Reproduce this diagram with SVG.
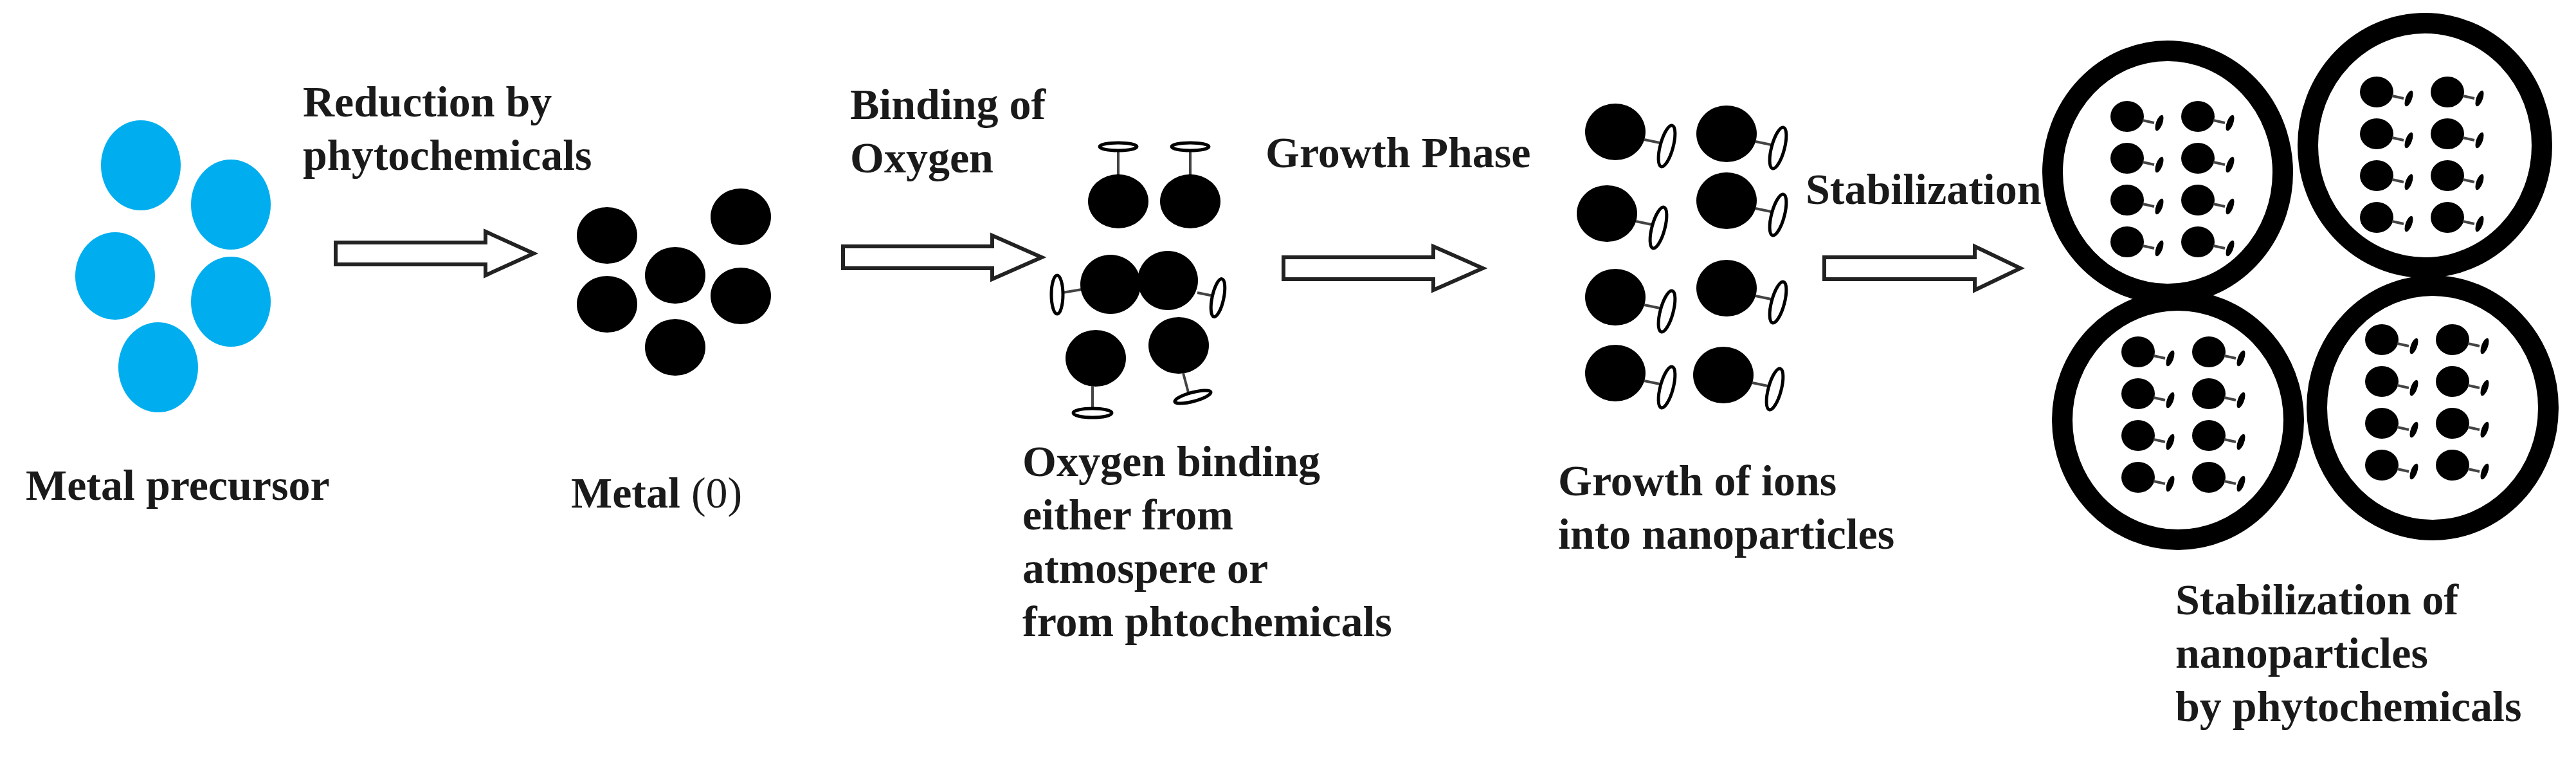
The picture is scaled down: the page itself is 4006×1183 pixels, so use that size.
<svg xmlns="http://www.w3.org/2000/svg" xmlns:xlink="http://www.w3.org/1999/xlink" width="4006" height="1183" viewBox="0 0 4006 1183">
<style>
.t{font-family:"Liberation Serif","Times New Roman",serif;font-weight:bold;font-size:68px;fill:#1a1a1a}
.n{font-weight:normal}
.b{fill:#00AEEF}
.k{fill:#000}
.o{fill:#fff;stroke:#000;stroke-width:5}
.l{stroke:#444;stroke-width:4}
.ar{fill:#fff;stroke:#222;stroke-width:6;stroke-linejoin:miter}
.ring{fill:none;stroke:#000;stroke-width:32}
</style>
<defs>
<g id="cdot">
<ellipse class="k" cx="0" cy="0" rx="26" ry="24"/>
<line class="l" x1="24" y1="6" x2="42" y2="10"/>
<ellipse class="k" cx="50" cy="10" rx="5" ry="13" transform="rotate(20 50 10)"/>
</g>
<g id="core">
<use xlink:href="#cdot" x="0" y="0"/><use xlink:href="#cdot" x="110" y="0"/>
<use xlink:href="#cdot" x="0" y="65"/><use xlink:href="#cdot" x="110" y="65"/>
<use xlink:href="#cdot" x="0" y="130"/><use xlink:href="#cdot" x="110" y="130"/>
<use xlink:href="#cdot" x="0" y="195"/><use xlink:href="#cdot" x="110" y="195"/>
</g>
<g id="gp">
<ellipse class="k" cx="0" cy="0" rx="47" ry="44"/>
<line class="l" x1="45" y1="12" x2="74" y2="18"/>
<ellipse class="o" cx="80" cy="22" rx="10" ry="33" transform="rotate(15 80 22)"/>
</g>
</defs>

<g id="precursor">
<ellipse class="b" cx="219" cy="257" rx="62" ry="70"/>
<ellipse class="b" cx="359" cy="318" rx="62" ry="70"/>
<ellipse class="b" cx="179" cy="429" rx="62" ry="68"/>
<ellipse class="b" cx="359" cy="469" rx="62" ry="70"/>
<ellipse class="b" cx="246" cy="571" rx="62" ry="70"/>
<text class="t" x="40" y="777">Metal precursor</text>
</g>

<g id="metal0">
<ellipse class="k" cx="944" cy="366" rx="47" ry="44"/>
<ellipse class="k" cx="1152" cy="337" rx="47" ry="44"/>
<ellipse class="k" cx="1050" cy="428" rx="47" ry="44"/>
<ellipse class="k" cx="944" cy="473" rx="47" ry="44"/>
<ellipse class="k" cx="1152" cy="460" rx="47" ry="44"/>
<ellipse class="k" cx="1050" cy="540" rx="47" ry="44"/>
<text class="t" x="888" y="789">Metal <tspan class="n">(0)</tspan></text>
</g>

<g id="oxygen">
<line class="l" x1="1739" y1="234" x2="1739" y2="272"/>
<line class="l" x1="1851" y1="234" x2="1851" y2="272"/>
<ellipse class="o" cx="1739" cy="228" rx="29" ry="6"/>
<ellipse class="o" cx="1851" cy="228" rx="29" ry="6"/>
<ellipse class="k" cx="1739" cy="313" rx="47" ry="42"/>
<ellipse class="k" cx="1851" cy="313" rx="47" ry="42"/>
<line class="l" x1="1652" y1="455" x2="1682" y2="450"/>
<line class="l" x1="1862" y1="455" x2="1887" y2="460"/>
<ellipse class="k" cx="1727" cy="442" rx="47" ry="46"/>
<ellipse class="k" cx="1816" cy="436" rx="47" ry="46"/>
<ellipse class="o" cx="1644" cy="458" rx="9" ry="30"/>
<ellipse class="o" cx="1894" cy="463" rx="9" ry="30" transform="rotate(12 1894 463)"/>
<ellipse class="k" cx="1704" cy="557" rx="47" ry="44"/>
<ellipse class="k" cx="1833" cy="537" rx="47" ry="44"/>
<line class="l" x1="1699" y1="600" x2="1699" y2="636"/>
<line class="l" x1="1840" y1="580" x2="1848" y2="610"/>
<ellipse class="o" cx="1699" cy="642" rx="30" ry="7"/>
<ellipse class="o" cx="1855" cy="617" rx="29" ry="7" transform="rotate(-15 1855 617)"/>
<text class="t" x="1590" y="740">Oxygen binding</text>
<text class="t" x="1590" y="823">either from</text>
<text class="t" x="1590" y="906">atmospere or</text>
<text class="t" x="1590" y="989">from phtochemicals</text>
</g>

<g id="growth">
<use xlink:href="#gp" x="2512" y="205"/>
<use xlink:href="#gp" x="2499" y="332"/>
<use xlink:href="#gp" x="2512" y="462"/>
<use xlink:href="#gp" x="2512" y="580"/>
<use xlink:href="#gp" x="2685" y="208"/>
<use xlink:href="#gp" x="2685" y="312"/>
<use xlink:href="#gp" x="2685" y="448"/>
<use xlink:href="#gp" x="2680" y="583"/>
<text class="t" x="2423" y="770">Growth of ions</text>
<text class="t" x="2423" y="853">into nanoparticles</text>
</g>

<g id="stabilized">
<ellipse class="ring" cx="3371" cy="268" rx="179" ry="189"/>
<ellipse class="ring" cx="3771" cy="226" rx="182" ry="190"/>
<ellipse class="ring" cx="3387" cy="653" rx="180" ry="186"/>
<ellipse class="ring" cx="3783" cy="634" rx="180" ry="190"/>
<use xlink:href="#core" x="3308" y="181"/>
<use xlink:href="#core" x="3696" y="143"/>
<use xlink:href="#core" x="3325" y="547"/>
<use xlink:href="#core" x="3704" y="528"/>
<text class="t" x="3383" y="955">Stabilization of</text>
<text class="t" x="3383" y="1038">nanoparticles</text>
<text class="t" x="3383" y="1121">by phytochemicals</text>
</g>

<g id="connectors">
<path class="ar" d="M522 377 H755 V360 L830 394 L755 428 V411 H522 Z"/>
<text class="t" x="471" y="181">Reduction by</text>
<text class="t" x="471" y="264">phytochemicals</text>
<path class="ar" d="M1311 383 H1543 V366 L1620 400 L1543 434 V417 H1311 Z"/>
<text class="t" x="1322" y="185">Binding of</text>
<text class="t" x="1322" y="268">Oxygen</text>
<path class="ar" d="M1996 400 H2229 V383 L2306 417 L2229 451 V434 H1996 Z"/>
<text class="t" x="1968" y="260">Growth Phase</text>
<path class="ar" d="M2837 400 H3071 V383 L3142 417 L3071 451 V434 H2837 Z"/>
<text class="t" x="2808" y="317">Stabilization</text>
</g>
</svg>
